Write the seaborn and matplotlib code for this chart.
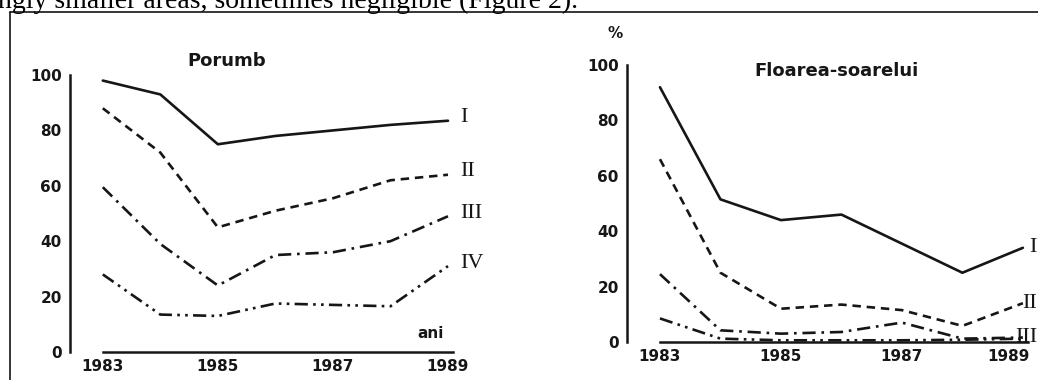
"""Figura 2 — ponderea suprafețelor (porumb și floarea-soarelui), 1983-1989."""

import matplotlib
matplotlib.use("Agg")
import matplotlib.pyplot as plt
import matplotlib.transforms as mtransforms
from matplotlib.lines import Line2D
import pandas as pd
import seaborn as sns

sns.set_style("white")
plt.rcParams["font.family"] = ["DejaVu Sans"]

W, H = 1038, 380
DPI = 100
INK = "#161616"

anos = [1983, 1984, 1985, 1986, 1987, 1988, 1989]
clase = ["I", "II", "III", "IV"]

porumb_I = [98, 93, 75, 78, 80, 82, 83.5]
porumb_II = [88, 72, 45, 51, 55.5, 62, 64]
porumb_III = [59.5, 39, 24, 35, 36, 40, 49]
porumb_IV = [28, 13.5, 13, 17.5, 17, 16.5, 31]

floarea_I = [92, 51.5, 44, 46, 35.5, 25, 34]
floarea_II = [66, 25, 12, 13.5, 11.5, 5.8, 14]
floarea_III = [24.5, 4.2, 3, 3.6, 7, 1.2, 1.6]
floarea_IV = [8.5, 1.2, 0.6, 0.6, 0.6, 0.8, 1.2]

yticks = [0, 20, 40, 60, 80, 100]
xlabels = ["1983", "", "1985", "", "1987", "", "1989"]

DASHES = ["", (3.2, 2.2), (5, 2.2, 1, 2.2), (5, 2, 1, 2, 1, 2)]


def long_df(series):
    rows = []
    for cls, vals in zip(clase, series):
        for an, v in zip(anos, vals):
            rows.append({"an": an, "val": v, "clasa": cls})
    return pd.DataFrame(rows)


def draw_panel(ax, series, titlu, xlim):
    df = long_df(series)
    sns.lineplot(data=df, x="an", y="val", hue="clasa", style="clasa",
                 palette=[INK] * 4, dashes=DASHES, linewidth=1.9,
                 legend=False, ax=ax, sort=False)
    ax.set_xlim(*xlim)
    ax.set_ylim(-2, 102)
    for s in ("top", "right"):
        ax.spines[s].set_visible(False)
    ax.spines["left"].set_bounds(0, 100)
    ax.spines["bottom"].set_position(("data", 0))
    ax.spines["bottom"].set_bounds(anos[0], anos[-1] + 0.08)
    for s in ("left", "bottom"):
        ax.spines[s].set_linewidth(1.8)
        ax.spines[s].set_color(INK)
    ax.set_yticks(yticks)
    ax.set_xticks(anos)
    ax.set_xticklabels(xlabels)
    ax.tick_params(axis="y", direction="in", length=4, width=1.3, pad=6,
                   labelsize=11, colors=INK)
    ax.tick_params(axis="x", direction="inout", length=4, width=1.3, pad=3,
                   labelsize=11, colors=INK)
    for t in ax.get_xticklabels() + ax.get_yticklabels():
        t.set_fontweight("bold")
    ax.set_xlabel("")
    ax.set_ylabel("")
    ax.text(*titlu[1], titlu[0], transform=ax.transAxes, fontsize=13,
            fontweight="bold", color=INK, ha="center", va="center")


fig = plt.figure(figsize=(W / DPI, H / DPI), dpi=DPI)

# painel esquerdo — porumb
ax1 = fig.add_axes([70 / W, (H - 357.5) / H, 401 / W, 288 / H])
series1 = [porumb_I, porumb_II, porumb_III, porumb_IV]
draw_panel(ax1, series1, ("Porumb", (0.39, 1.03)), (1982.43, 1989.4))
for cls, vals in zip(clase, series1):
    ax1.annotate(cls, (anos[-1], vals[-1]), xytext=(9, 2),
                 textcoords="offset points", family="Liberation Serif",
                 fontsize=16, color=INK, va="center", ha="left",
                 annotation_clip=False)
ax1.text(0.9, 0.085, "ani", transform=ax1.transAxes, fontsize=11,
         fontweight="bold", color=INK, ha="center", va="center")

# painel direito — floarea-soarelui
ax2 = fig.add_axes([627 / W, (H - 347.5) / H, 411 / W, 288 / H])
series2 = [floarea_I, floarea_II, floarea_III, floarea_IV]
draw_panel(ax2, series2, ("Floarea-soarelui", (0.51, 0.96)), (1982.455, 1989.25))
# etichetas encostadas na borda direita da figura
for cls, vals in zip(clase[:3], series2):
    ax2.annotate(cls, xy=(1037 / W, vals[-1]),
                 xycoords=("figure fraction", "data"),
                 family="Liberation Serif", fontsize=16, color=INK,
                 va="center", ha="right", annotation_clip=False)
# 1989 um pouco para a esquerda, como no original
lab = ax2.get_xticklabels()[-1]
lab.set_transform(lab.get_transform()
                  + mtransforms.ScaledTranslation(-10 / 72, 0, fig.dpi_scale_trans))
ax2.text(-0.03, 1.09, "%", transform=ax2.transAxes, fontsize=11,
         fontweight="bold", color=INK, ha="center", va="center")

# texto do documento e moldura
fig.text(-0.002, 1 - 8 / H, "ngly smaller areas, sometimes negligible (Figure 2).",
         family="Liberation Serif", fontsize=20, color="black",
         ha="left", va="baseline")
fig.add_artist(Line2D([10 / W, 10 / W], [0, 1 - 11.5 / H],
                      transform=fig.transFigure, color="black", lw=1.1))
fig.add_artist(Line2D([10 / W, 1], [1 - 11.5 / H, 1 - 11.5 / H],
                      transform=fig.transFigure, color="black", lw=1.1))

fig.savefig("out.png", dpi=DPI)
plt.close(fig)
